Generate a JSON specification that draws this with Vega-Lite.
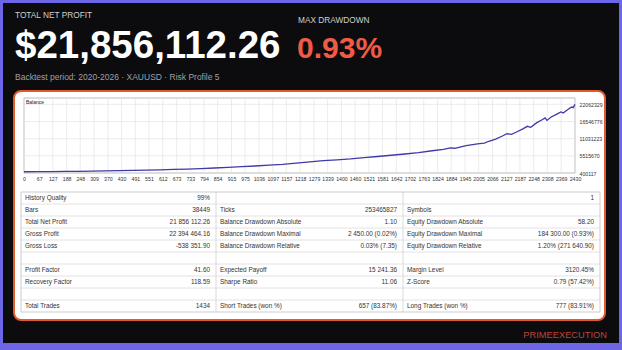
{
  "$schema": "https://vega.github.io/schema/vega-lite/v6.json",
  "width": 622,
  "height": 346,
  "autosize": {"type": "none"},
  "padding": {"left": 0, "right": 0, "top": 0, "bottom": 4},
  "background": "#6d66e6",
  "view": {"fill": "#0c0c0e", "stroke": "#6d66e6", "strokeWidth": 6},
  "config": {"text": {"font": "Liberation Sans"}, "axis": {"labelFont": "Liberation Sans"}},
  "datasets": {
    "header": [
      {"block": "net", "line": "kicker", "text": "TOTAL NET PROFIT"},
      {"block": "dd", "line": "kicker", "text": "MAX DRAWDOWN"},
      {"block": "net", "line": "value", "text": "$21,856,112.26"},
      {"block": "dd", "line": "value", "text": "0.93%"},
      {"block": "net", "line": "note", "text": "Backtest period: 2020-2026 · XAUUSD · Risk Profile 5"},
      {"block": "brand", "line": "brand", "text": "PRIMEEXECUTION"}
    ],
    "balance": [
      {"trade": 0, "balance": 400117}, {"trade": 60, "balance": 430000}, {"trade": 120, "balance": 470000},
      {"trade": 180, "balance": 510000}, {"trade": 240, "balance": 550000}, {"trade": 300, "balance": 600000},
      {"trade": 360, "balance": 660000}, {"trade": 420, "balance": 740000}, {"trade": 480, "balance": 820000},
      {"trade": 540, "balance": 920000}, {"trade": 600, "balance": 1020000}, {"trade": 660, "balance": 1140000},
      {"trade": 720, "balance": 1270000}, {"trade": 780, "balance": 1420000}, {"trade": 840, "balance": 1600000},
      {"trade": 900, "balance": 1800000}, {"trade": 960, "balance": 2020000}, {"trade": 1020, "balance": 2250000},
      {"trade": 1080, "balance": 2520000}, {"trade": 1140, "balance": 2800000}, {"trade": 1200, "balance": 3200000},
      {"trade": 1260, "balance": 3550000}, {"trade": 1320, "balance": 3950000}, {"trade": 1380, "balance": 4250000},
      {"trade": 1440, "balance": 4550000}, {"trade": 1500, "balance": 4950000}, {"trade": 1560, "balance": 5300000},
      {"trade": 1620, "balance": 5700000}, {"trade": 1680, "balance": 6100000}, {"trade": 1740, "balance": 6550000},
      {"trade": 1800, "balance": 7150000}, {"trade": 1850, "balance": 7600000}, {"trade": 1880, "balance": 8050000},
      {"trade": 1900, "balance": 7950000}, {"trade": 1950, "balance": 8800000}, {"trade": 2000, "balance": 9350000},
      {"trade": 2030, "balance": 9600000}, {"trade": 2050, "balance": 10200000}, {"trade": 2080, "balance": 10900000},
      {"trade": 2110, "balance": 11900000}, {"trade": 2130, "balance": 12600000}, {"trade": 2150, "balance": 12400000},
      {"trade": 2170, "balance": 13100000}, {"trade": 2200, "balance": 14200000}, {"trade": 2220, "balance": 15000000},
      {"trade": 2235, "balance": 14700000}, {"trade": 2260, "balance": 16100000}, {"trade": 2285, "balance": 17100000},
      {"trade": 2298, "balance": 17700000}, {"trade": 2306, "balance": 16900000}, {"trade": 2325, "balance": 18000000},
      {"trade": 2350, "balance": 18900000}, {"trade": 2368, "balance": 19600000}, {"trade": 2378, "balance": 19300000},
      {"trade": 2400, "balance": 20500000}, {"trade": 2415, "balance": 21200000}, {"trade": 2422, "balance": 21000000},
      {"trade": 2430, "balance": 22062329}
    ],
    "xticks": [
      {"trade": 0}, {"trade": 67}, {"trade": 127}, {"trade": 188}, {"trade": 248}, {"trade": 309}, {"trade": 370},
      {"trade": 430}, {"trade": 491}, {"trade": 551}, {"trade": 612}, {"trade": 673}, {"trade": 733}, {"trade": 794},
      {"trade": 854}, {"trade": 915}, {"trade": 975}, {"trade": 1036}, {"trade": 1097}, {"trade": 1157}, {"trade": 1218},
      {"trade": 1279}, {"trade": 1339}, {"trade": 1400}, {"trade": 1460}, {"trade": 1521}, {"trade": 1581}, {"trade": 1642},
      {"trade": 1702}, {"trade": 1763}, {"trade": 1824}, {"trade": 1884}, {"trade": 1945}, {"trade": 2005}, {"trade": 2066},
      {"trade": 2127}, {"trade": 2187}, {"trade": 2248}, {"trade": 2308}, {"trade": 2369}, {"trade": 2430}
    ],
    "yticks": [
      {"balance": 5515670}, {"balance": 11031223}, {"balance": 16546776}, {"balance": 22062329}
    ],
    "table": [
      {"row": 1, "col": 1, "label": "History Quality", "value": "99%"},
      {"row": 1, "col": 3, "label": "", "value": "1"},
      {"row": 2, "col": 1, "label": "Bars", "value": "38449"},
      {"row": 2, "col": 2, "label": "Ticks", "value": "253465827"},
      {"row": 2, "col": 3, "label": "Symbols", "value": ""},
      {"row": 3, "col": 1, "label": "Total Net Profit", "value": "21 856 112.26"},
      {"row": 3, "col": 2, "label": "Balance Drawdown Absolute", "value": "1.10"},
      {"row": 3, "col": 3, "label": "Equity Drawdown Absolute", "value": "58.20"},
      {"row": 4, "col": 1, "label": "Gross Profit", "value": "22 394 464.16"},
      {"row": 4, "col": 2, "label": "Balance Drawdown Maximal", "value": "2 450.00 (0.02%)"},
      {"row": 4, "col": 3, "label": "Equity Drawdown Maximal", "value": "184 300.00 (0.93%)"},
      {"row": 5, "col": 1, "label": "Gross Loss", "value": "-538 351.90"},
      {"row": 5, "col": 2, "label": "Balance Drawdown Relative", "value": "0.03% (7.35)"},
      {"row": 5, "col": 3, "label": "Equity Drawdown Relative", "value": "1.20% (271 640.90)"},
      {"row": 7, "col": 1, "label": "Profit Factor", "value": "41.60"},
      {"row": 7, "col": 2, "label": "Expected Payoff", "value": "15 241.36"},
      {"row": 7, "col": 3, "label": "Margin Level", "value": "3120.45%"},
      {"row": 8, "col": 1, "label": "Recovery Factor", "value": "118.59"},
      {"row": 8, "col": 2, "label": "Sharpe Ratio", "value": "11.06"},
      {"row": 8, "col": 3, "label": "Z-Score", "value": "0.79 (57.42%)"},
      {"row": 10, "col": 1, "label": "Total Trades", "value": "1434"},
      {"row": 10, "col": 2, "label": "Short Trades (won %)", "value": "657 (83.87%)"},
      {"row": 10, "col": 3, "label": "Long Trades (won %)", "value": "777 (83.91%)"}
    ],
    "rowlines": [
      {"edge": 1}, {"edge": 2}, {"edge": 3}, {"edge": 4}, {"edge": 5}, {"edge": 6}, {"edge": 7}, {"edge": 8}, {"edge": 9}
    ],
    "collines": [{"edge": 1}, {"edge": 2}]
  },
  "resolve": {
    "scale": {"x": "independent", "y": "independent", "color": "independent", "size": "independent"},
    "axis": {"x": "independent", "y": "independent"}
  },
  "layer": [
    {
      "data": {"values": [{"panel": "report"}]},
      "mark": {"type": "rect", "fill": "#ffffff", "stroke": "#e2592c", "strokeWidth": 2, "cornerRadius": 7},
      "encoding": {
        "x": {"datum": 0, "type": "quantitative", "scale": {"domain": [0, 1], "range": [14, 605], "nice": false, "zero": false}, "axis": null},
        "x2": {"datum": 1},
        "y": {"datum": 0, "type": "quantitative", "scale": {"domain": [0, 1], "range": [91, 320], "nice": false, "zero": false}, "axis": null},
        "y2": {"datum": 1}
      }
    },
    {
      "data": {"values": [{"panel": "plot"}]},
      "mark": {"type": "rect", "fill": "#ffffff", "stroke": "#a9a9a9", "strokeWidth": 0.8},
      "encoding": {
        "x": {"datum": 0, "type": "quantitative", "scale": {"domain": [0, 2430], "range": [24, 575], "nice": false, "zero": false}, "axis": null},
        "x2": {"datum": 2430},
        "y": {"datum": 117, "type": "quantitative", "scale": {"domain": [117, 24100000], "range": [173, 98], "nice": false, "zero": false}, "axis": null},
        "y2": {"datum": 24100000}
      }
    },
    {
      "data": {"name": "xticks"},
      "mark": {"type": "rule", "stroke": "#e4e4e4", "strokeWidth": 0.7},
      "encoding": {
        "x": {"field": "trade", "type": "quantitative", "scale": {"domain": [0, 2430], "range": [24, 575], "nice": false, "zero": false}, "axis": null},
        "y": {"datum": 117, "type": "quantitative", "scale": {"domain": [117, 24100000], "range": [173, 98], "nice": false, "zero": false}, "axis": null},
        "y2": {"datum": 24100000}
      }
    },
    {
      "data": {"name": "yticks"},
      "mark": {"type": "rule", "stroke": "#e4e4e4", "strokeWidth": 0.7},
      "encoding": {
        "y": {"field": "balance", "type": "quantitative", "scale": {"domain": [117, 24100000], "range": [173, 98], "nice": false, "zero": false}, "axis": null},
        "x": {"datum": 0, "type": "quantitative", "scale": {"domain": [0, 2430], "range": [24, 575], "nice": false, "zero": false}, "axis": null},
        "x2": {"datum": 2430}
      }
    },
    {
      "data": {"name": "balance"},
      "mark": {"type": "line", "stroke": "#3f3aa8", "strokeWidth": 1.3},
      "encoding": {
        "x": {
          "field": "trade", "type": "quantitative",
          "scale": {"domain": [0, 2430], "range": [24, 575], "nice": false, "zero": false},
          "axis": {
            "orient": "bottom", "offset": -173, "title": null, "grid": false, "domain": false, "ticks": false, "zindex": 2,
            "values": [0, 67, 127, 188, 248, 309, 370, 430, 491, 551, 612, 673, 733, 794, 854, 915, 975, 1036, 1097, 1157, 1218, 1279, 1339, 1400, 1460, 1521, 1581, 1642, 1702, 1763, 1824, 1884, 1945, 2005, 2066, 2127, 2187, 2248, 2308, 2369, 2430],
            "format": "d", "labelFontSize": 5.2, "labelColor": "#333333", "labelPadding": 3, "labelOverlap": false, "labelFlush": false
          }
        },
        "y": {
          "field": "balance", "type": "quantitative",
          "scale": {"domain": [117, 24100000], "range": [173, 98], "nice": false, "zero": false},
          "axis": {
            "orient": "right", "offset": -47, "title": null, "grid": false, "domain": false, "ticks": false, "zindex": 2,
            "values": [117, 5515670, 11031223, 16546776, 22062329],
            "labelExpr": "datum.value == 117 ? '400117' : format(datum.value, 'd')",
            "labelFontSize": 5.2, "labelColor": "#333333", "labelPadding": 4, "labelOverlap": false, "labelFlush": false
          }
        }
      }
    },
    {
      "data": {"values": [{"series": "Balance"}]},
      "mark": {"type": "text", "align": "left", "baseline": "top", "dx": 2, "dy": 2, "fontSize": 5, "color": "#222222"},
      "encoding": {
        "text": {"field": "series"},
        "x": {"datum": 0, "type": "quantitative", "scale": {"domain": [0, 2430], "range": [24, 575], "nice": false, "zero": false}, "axis": null},
        "y": {"datum": 24100000, "type": "quantitative", "scale": {"domain": [117, 24100000], "range": [173, 98], "nice": false, "zero": false}, "axis": null}
      }
    },
    {
      "data": {"name": "rowlines"},
      "mark": {"type": "rule", "stroke": "#dadada", "strokeWidth": 0.8},
      "encoding": {
        "y": {"field": "edge", "type": "quantitative", "scale": {"domain": [0, 10], "range": [192, 312], "nice": false, "zero": false}, "axis": null},
        "x": {"datum": 0, "type": "quantitative", "scale": {"domain": [0, 1, 2, 3], "range": [21, 216, 403, 600], "nice": false, "zero": false}, "axis": null},
        "x2": {"datum": 3}
      }
    },
    {
      "data": {"name": "collines"},
      "mark": {"type": "rule", "stroke": "#d0d0d0", "strokeWidth": 0.8},
      "encoding": {
        "x": {"field": "edge", "type": "quantitative", "scale": {"domain": [0, 1, 2, 3], "range": [21, 216, 403, 600], "nice": false, "zero": false}, "axis": null},
        "y": {"datum": 0, "type": "quantitative", "scale": {"domain": [0, 10], "range": [192, 312], "nice": false, "zero": false}, "axis": null},
        "y2": {"datum": 10}
      }
    },
    {
      "data": {"values": [{"panel": "table"}]},
      "mark": {"type": "rect", "fill": null, "stroke": "#c6c6c6", "strokeWidth": 0.9},
      "encoding": {
        "x": {"datum": 0, "type": "quantitative", "scale": {"domain": [0, 1, 2, 3], "range": [21, 216, 403, 600], "nice": false, "zero": false}, "axis": null},
        "x2": {"datum": 3},
        "y": {"datum": 0, "type": "quantitative", "scale": {"domain": [0, 10], "range": [192, 312], "nice": false, "zero": false}, "axis": null},
        "y2": {"datum": 10}
      }
    },
    {
      "data": {"name": "table"},
      "mark": {"type": "text", "align": "left", "baseline": "middle", "dx": 4, "fontSize": 6.4, "color": "#333333"},
      "encoding": {
        "text": {"field": "label"},
        "x": {"field": "col", "type": "quantitative", "scale": {"domain": [1, 2, 3], "range": [21, 216, 403], "nice": false, "zero": false}, "axis": null},
        "y": {"field": "row", "type": "quantitative", "scale": {"domain": [0.5, 10.5], "range": [192, 312], "nice": false, "zero": false}, "axis": null}
      }
    },
    {
      "data": {"name": "table"},
      "mark": {"type": "text", "align": "right", "baseline": "middle", "dx": -6, "fontSize": 6.4, "color": "#333333"},
      "encoding": {
        "text": {"field": "value"},
        "x": {"field": "col", "type": "quantitative", "scale": {"domain": [1, 2, 3], "range": [216, 403, 600], "nice": false, "zero": false}, "axis": null},
        "y": {"field": "row", "type": "quantitative", "scale": {"domain": [0.5, 10.5], "range": [192, 312], "nice": false, "zero": false}, "axis": null}
      }
    },
    {
      "data": {"name": "header"},
      "transform": [{"filter": "datum.line == 'kicker'"}],
      "mark": {"type": "text", "align": "left", "baseline": "middle", "fontSize": 8.3, "color": "#d0d0d0"},
      "encoding": {
        "text": {"field": "text"},
        "x": {"field": "block", "type": "nominal", "scale": {"type": "point", "domain": ["net", "dd"], "range": [15, 298], "padding": 0}, "axis": null},
        "y": {"field": "block", "type": "nominal", "scale": {"type": "point", "domain": ["net", "dd"], "range": [15.7, 20.7], "padding": 0}, "axis": null}
      }
    },
    {
      "data": {"name": "header"},
      "transform": [{"filter": "datum.line == 'value'"}],
      "mark": {"type": "text", "align": "left", "baseline": "alphabetic", "fontWeight": "bold"},
      "encoding": {
        "text": {"field": "text"},
        "x": {"field": "block", "type": "nominal", "scale": {"type": "point", "domain": ["net", "dd"], "range": [15, 297], "padding": 0}, "axis": null},
        "y": {"field": "block", "type": "nominal", "scale": {"type": "point", "domain": ["net", "dd"], "range": [57.5, 57.5], "padding": 0}, "axis": null},
        "size": {"field": "block", "type": "nominal", "scale": {"domain": ["net", "dd"], "range": [38.5, 30]}, "legend": null},
        "color": {"field": "block", "type": "nominal", "scale": {"domain": ["net", "dd"], "range": ["#ffffff", "#f05b45"]}, "legend": null}
      }
    },
    {
      "data": {"name": "header"},
      "transform": [{"filter": "datum.line == 'note'"}],
      "mark": {"type": "text", "align": "left", "baseline": "middle", "fontSize": 8.5, "color": "#a0a0a0"},
      "encoding": {
        "text": {"field": "text"},
        "x": {"field": "block", "type": "nominal", "scale": {"type": "point", "domain": ["net", "dd"], "range": [15, 298], "padding": 0}, "axis": null},
        "y": {"field": "block", "type": "nominal", "scale": {"type": "point", "domain": ["net", "dd"], "range": [76.5, 76.5], "padding": 0}, "axis": null}
      }
    },
    {
      "data": {"name": "header"},
      "transform": [{"filter": "datum.line == 'brand'"}],
      "mark": {"type": "text", "align": "right", "baseline": "middle", "fontSize": 9.3, "color": "#b9473a"},
      "encoding": {
        "text": {"field": "text"},
        "x": {"field": "block", "type": "nominal", "scale": {"type": "point", "domain": ["brand"], "range": [607, 607], "padding": 0}, "axis": null},
        "y": {"field": "block", "type": "nominal", "scale": {"type": "point", "domain": ["brand"], "range": [335, 335], "padding": 0}, "axis": null}
      }
    }
  ]
}
